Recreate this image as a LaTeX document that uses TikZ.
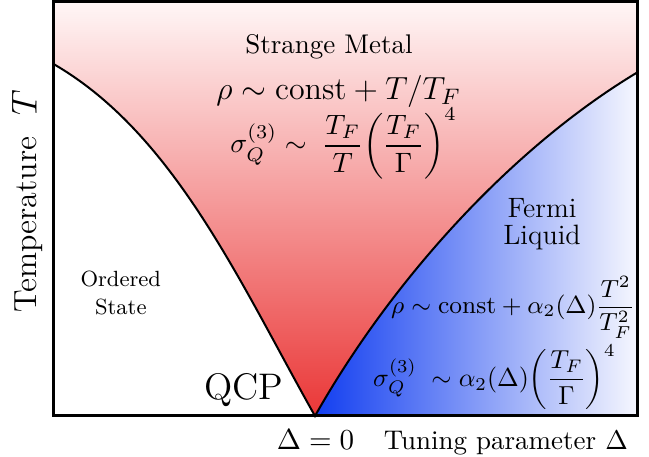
\documentclass[tikz,border=0pt]{standalone}
\usepackage{fix-cm}
\usepackage{amsmath}
\definecolor{metaltop}{RGB}{255,246,246}
\definecolor{metalbot}{RGB}{234,55,55}
\definecolor{liquidleft}{RGB}{18,62,240}
\definecolor{liquidright}{RGB}{246,247,254}
\begin{document}
\begin{tikzpicture}[x=0.4pt,y=0.4pt,
    lbl/.style={anchor=base,inner sep=0pt},
    phase/.style={line width=0.8pt}]
    \useasboundingbox (-53.5,-41) rectangle (595.5,416);
    % crossover lines meet at the critical point
    \coordinate (qcp pt) at (261.5,0);
    \coordinate (left end) at (0,352);
    \coordinate (right end) at (584.5,344);
    \shade[top color=metaltop,bottom color=metalbot]
        (left end) .. controls (121,282) and (186.5,133) .. (qcp pt)
        .. controls (336.5,133) and (456,267) .. (right end)
        -- (584.5,414) -- (0,414) -- cycle;
    \shade[left color=liquidleft,right color=liquidright]
        (qcp pt) .. controls (336.5,133) and (456,267) .. (right end)
        -- (584.5,0) -- cycle;
    \draw[phase] (left end) .. controls (121,282) and (186.5,133) .. (qcp pt)
        .. controls (336.5,133) and (456,267) .. (right end);
    \draw[line width=1.2pt] (0,0) rectangle (584.5,414);
    % strange metal
    \node[lbl,font=\fontsize{10.8}{13}\selectfont] (metal) at (275.5,362) {Strange Metal};
    \node[lbl,font=\fontsize{12.8}{15}\selectfont] (rhoSM) at (285,316)
        {$\rho\sim\mathrm{const}+T/T_F$};
    \node[lbl,font=\fontsize{11.2}{13}\selectfont] (sigmaSM) at (290,263)
        {$\displaystyle\sigma_Q^{(3)}\sim\;\frac{T_F}{T}\!\left(\frac{T_F}{\Gamma}\right)^{4}$};
    % fermi liquid
    \node[align=center,inner sep=0pt,font=\fontsize{11.2}{10.8}\selectfont] (liquid) at (488.5,192.3)
        {Fermi\\Liquid};
    \node[lbl,font=\fontsize{9.9}{12}\selectfont] (rhoFL) at (459.5,102)
        {$\displaystyle\rho\sim\mathrm{const}+\alpha_2(\Delta)\frac{T^2}{T_F^2}$};
    \node[lbl,font=\fontsize{10.4}{12}\selectfont] (sigmaFL) at (441,29.5)
        {$\displaystyle\sigma_Q^{(3)}\;\sim\alpha_2(\Delta)\!\left(\frac{T_F}{\Gamma}\right)^{4}$};
    % ordered side and axes
    \node[align=center,inner sep=0pt,font=\fontsize{8.8}{11.3}\selectfont] (ordered) at (67.3,122.9)
        {Ordered\\State};
    \node[lbl,font=\fontsize{14.8}{17}\selectfont] (qcp) at (190.5,16) {QCP};
    \node[lbl,font=\fontsize{11.6}{14}\selectfont] (dzero) at (262,-34) {$\Delta=0$};
    \node[lbl,font=\fontsize{10.8}{13}\selectfont] (tuning) at (452.3,-34) {Tuning parameter $\Delta$};
    \node[lbl,rotate=90,font=\fontsize{12.8}{15}\selectfont] (temp) at (-16.8,214.5)
        {Temperature\ \ {\fontsize{14.4}{17}\selectfont$T$}};
\end{tikzpicture}
\end{document}
